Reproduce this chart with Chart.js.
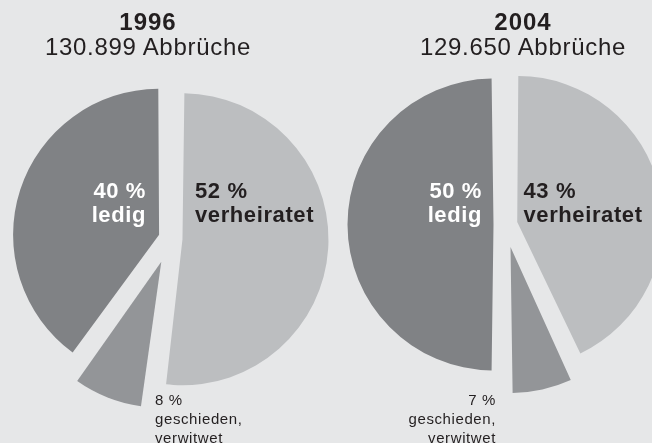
<!DOCTYPE html>
<html lang="de">
<head>
<meta charset="utf-8">
<title>Abbrüche nach Familienstand</title>
<script src="https://cdn.jsdelivr.net/npm/chart.js@4/dist/chart.umd.min.js"></script>
<style>
    html, body {
        margin: 0;
        padding: 0;
    }
    body {
        width: 652px;
        height: 443px;
        overflow: hidden;
        position: relative;
        background: #e6e7e8;
        font-family: "Liberation Sans", Arial, Helvetica, sans-serif;
        color: #231f20;
    }
    canvas {
        position: absolute;
        top: 0;
    }
    #pie1996 { left: 0; }
    #pie2004 { left: 335px; }
    .titel {
        position: absolute;
        top: 10.3px;
        width: 300px;
        text-align: center;
        font-size: 24px;
        line-height: 24.7px;
        letter-spacing: 0.7px;
    }
    .titel b { letter-spacing: 1px; }
    .gross {
        position: absolute;
        top: 179px;
        font-size: 22px;
        font-weight: bold;
        line-height: 23.5px;
        letter-spacing: 0.6px;
    }
    .hell { color: #ffffff; text-align: right; }
    .dunkel { color: #231f20; text-align: left; }
    .klein {
        position: absolute;
        top: 391.4px;
        font-size: 15px;
        line-height: 18.8px;
        letter-spacing: 0.6px;
    }
</style>
</head>
<body>

<canvas id="pie1996" width="341" height="477"></canvas>
<canvas id="pie2004" width="341" height="449"></canvas>

<div class="titel" id="titel1996" style="left: -2px;"></div>
<div class="titel" id="titel2004" style="left: 373px;"></div>

<div class="gross hell" id="ledig1996" style="left: 0; width: 146px;"></div>
<div class="gross dunkel" id="verh1996" style="left: 195px;"></div>
<div class="klein" id="gesch1996" style="left: 155px;"></div>

<div class="gross hell" id="ledig2004" style="left: 0; width: 482px;"></div>
<div class="gross dunkel" id="verh2004" style="left: 523.5px;"></div>
<div class="klein" id="gesch2004" style="left: 0; width: 496px; text-align: right;"></div>

<script>
// Daten
const kategorien = ['verheiratet', 'geschieden, verwitwet', 'ledig'];
const jahre = ['1996', '2004'];
const abbrueche = ['130.899', '129.650'];
const werte1996 = [52, 8, 40];
const werte2004 = [43, 7, 50];

const farben = ['#bcbec0', '#939598', '#808285'];
const radius = 146;

// Chart.js vergroessert herausgeschobene Stuecke etwas, das gleichen wir aus
const radiusAusgleich = {
    id: 'radiusAusgleich',
    afterDatasetUpdate(chart, args) {
        const meta = chart.getDatasetMeta(args.index);
        meta.data.forEach(arc => {
            const o = (arc.options.offset || 0) / 4;
            const fix = 1 - Math.sin(Math.min(Math.PI, arc.circumference));
            arc.outerRadius = radius - o * fix;
        });
    }
};

function tortenDiagramm(id, werte, versatz) {
    const ctx = document.getElementById(id);
    return new Chart(ctx, {
        type: 'pie',
        data: {
            labels: kategorien,
            datasets: [{
                data: werte,
                backgroundColor: farben,
                borderWidth: 0,
                offset: versatz,
                radius: radius
            }]
        },
        options: {
            responsive: false,
            animation: false,
            layout: { padding: 0 },
            plugins: {
                legend: { display: false },
                tooltip: { enabled: false }
            }
        },
        plugins: [radiusAusgleich]
    });
}

tortenDiagramm('pie1996', werte1996, [48, 100, 48]);
tortenDiagramm('pie2004', werte2004, [48, 92, 48]);

// Beschriftungen
function beschriften(jahr, werte, i) {
    document.getElementById('titel' + jahr).innerHTML =
        '<b>' + jahr + '</b><br>' + abbrueche[i] + ' Abbrüche';
    document.getElementById('verh' + jahr).innerHTML =
        werte[0] + ' %<br>' + kategorien[0];
    document.getElementById('gesch' + jahr).innerHTML =
        werte[1] + ' %<br>' + kategorien[1].replace(', ', ',<br>');
    document.getElementById('ledig' + jahr).innerHTML =
        werte[2] + ' %<br>' + kategorien[2];
}

beschriften(jahre[0], werte1996, 0);
beschriften(jahre[1], werte2004, 1);
</script>

</body>
</html>
